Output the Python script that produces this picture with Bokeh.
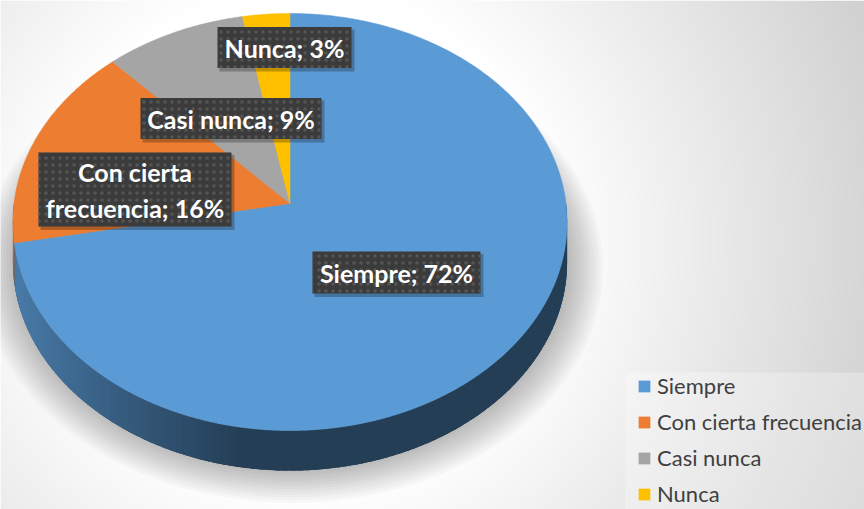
import numpy as np
from bokeh.plotting import figure
from bokeh.models import Range1d, Legend, LegendItem, ColumnDataSource
from bokeh.core.properties import value
from bokeh.embed import file_html
from bokeh.resources import INLINE

# ---------------- data ----------------
categories = ["Siempre", "Con cierta frecuencia", "Casi nunca", "Nunca"]
values = [72, 16, 9, 3]
colors = ["#5B9BD5", "#ED7D31", "#A5A5A5", "#FFC000"]

# ---------------- layout (reference pixel coordinates) ----------------
PAGE_W, PAGE_H = 864, 509
CX, CY = 289.5, 203.0          # projected pie centre
A, B, K = 276.0, 206.9, 0.0887  # perspective ellipse parameters
DEPTH = 40.0                    # thickness of the 3-D disc

# label boxes: centre x, centre y, width, height
label_pos = [(396, 272, 168, 42), (134.5, 189, 193, 74), (230.5, 118, 181, 41), (284, 47, 134, 41)]


def Y(y):
    return PAGE_H - y


def proj(theta_deg, r=1.0, dy=0.0):
    t = np.radians(theta_deg)
    X, Z = r * np.cos(t), r * np.sin(t)
    d = 1 + K * Z
    return CX + A * X / d, Y(CY - B * Z / d + dy)


def hex2rgb(h):
    h = h.lstrip("#")
    return tuple(int(h[i:i + 2], 16) for i in (0, 2, 4))


def rgb2hex(c):
    return "#%02x%02x%02x" % tuple(int(max(0, min(255, round(v)))) for v in c)


def shade(x):
    t = np.clip((x - 13) / 230.0, 0, 1)
    return 0.80 - 0.40 * t ** 0.9


p = figure(width=PAGE_W, height=PAGE_H,
           x_range=Range1d(0, PAGE_W), y_range=Range1d(0, PAGE_H),
           x_axis_type=None, y_axis_type=None, output_backend="svg", toolbar_location=None,
           min_border=0, outline_line_color=None)
p.grid.visible = False
p.background_fill_color = "white"
p.border_fill_color = "white"

# ---------------- background gradient ----------------
nx, ny = 432, 255
gx = np.linspace(0, PAGE_W, nx)
gy = np.linspace(PAGE_H, 0, ny)  # row 0 = bottom
GX, GY = np.meshgrid(gx, gy)
dist = np.hypot(GX - 300, GY - 240)
g = np.clip(255 - 0.13 * np.maximum(0, dist - 255), 205, 255).astype(np.uint8)
img = np.empty((ny, nx), dtype=np.uint32)
view = img.view(dtype=np.uint8).reshape((ny, nx, 4))
view[:, :, 0] = g
view[:, :, 1] = g
view[:, :, 2] = g
view[:, :, 3] = 255
p.image_rgba(image=[img], x=0, y=0, dw=PAGE_W, dh=PAGE_H)

# legend area panel
p.quad(left=625, right=PAGE_W, top=Y(372), bottom=0,
       fill_color="white", fill_alpha=0.28, line_color=None)

# ---------------- slice angles ----------------
total = float(sum(values))
starts, ends = [], []
acc = 0.0
for v in values:
    starts.append(90 - 360 * acc / total)      # math angle (deg), clockwise from 12 o'clock
    acc += v
    ends.append(90 - 360 * acc / total)

# ---------------- soft shadow ----------------
ring = np.linspace(0, 360, 361)
for i in range(12):
    r = 1.0 + 0.011 * i
    sx, sy = proj(ring, r=r, dy=DEPTH + 2)
    p.patch(sx + 2, sy, fill_color="black", fill_alpha=0.022, line_color=None)

# ---------------- side wall ----------------
band = np.linspace(-180, 0, 181)
bx1, by1 = proj(band)
bx2, by2 = proj(band[::-1], dy=DEPTH)
p.patch(list(bx1) + list(bx2), list(by1) + list(by2),
        fill_color=rgb2hex(np.array(hex2rgb(colors[0])) * 0.42), line_color=None)

side_xs, side_ys, side_cols = [], [], []
for s, e, c in zip(starts, ends, colors):
    lo, hi = max(e, -180.0), min(s, 0.0)
    if hi <= lo:
        continue
    n = max(2, int(np.ceil((hi - lo) / 1.5)))
    angs = np.linspace(lo, hi, n + 1)
    step = angs[1] - angs[0]
    base = np.array(hex2rgb(c), dtype=float)
    for a1 in angs[:-1]:
        a2 = min(a1 + step * 1.6, hi)  # overlap neighbouring strips
        aa = np.linspace(a1, a2, 4)
        tx, ty = proj(aa)
        bx, by = proj(aa[::-1], dy=DEPTH)
        xm = float(np.mean(tx))
        side_xs.append(list(tx) + list(bx))
        side_ys.append(list(ty) + list(by))
        side_cols.append(rgb2hex(base * shade(xm)))
p.patches(xs="xs", ys="ys", fill_color="c", line_color=None,
          source=ColumnDataSource(dict(xs=side_xs, ys=side_ys, c=side_cols)))

# ---------------- top face ----------------
items = []
for cat, s, e, c in zip(categories, starts, ends, colors):
    n = max(2, int(np.ceil(abs(s - e) / 0.5)))
    angs = np.linspace(s, e, n + 1)
    ax, ay = proj(angs)
    xs = [CX] + list(ax)
    ys = [Y(CY)] + list(ay)
    r = p.patches(xs=[xs], ys=[ys], fill_color=c, line_color=c, line_width=0.5)
    items.append(LegendItem(label=cat, renderers=[r]))

# ---------------- data labels ----------------
texts = []
for cat, v in zip(categories, values):
    t = f"{cat}; {v}%"
    if cat == "Con cierta frecuencia":
        t = t.replace("Con cierta ", "Con cierta\n")
    texts.append(t)

lx = [q[0] for q in label_pos]
ly = [Y(q[1]) for q in label_pos]
lw = [q[2] for q in label_pos]
lh = [q[3] for q in label_pos]

p.rect(x=[x + 2.5 for x in lx], y=[y - 3 for y in ly], width=[w + 1 for w in lw], height=[h + 1 for h in lh],
       fill_color="black", fill_alpha=0.25, line_color=None)
p.rect(x=lx, y=ly, width=lw, height=lh, fill_color="#3b3b3b", line_color=None,
       hatch_pattern="dot", hatch_color="#555555", hatch_scale=7, hatch_weight=1.1)
p.text(x=lx, y=ly, text=texts, text_font=value("Lato"), text_font_style="bold",
       text_font_size="25px", text_color="white", text_align="center",
       text_baseline="middle", text_line_height=1.2)

# ---------------- legend ----------------
legend = Legend(items=items, location=(637, 2), orientation="vertical",
                padding=0, margin=0, spacing=9, label_height=26,
                glyph_height=14, glyph_width=14, label_standoff=6,
                border_line_color=None, background_fill_alpha=0,
                label_text_font="Lato", label_text_font_size="22px",
                label_text_color="#404040")
p.add_layout(legend, "center")

open("out.html", "w").write(file_html(p, INLINE))
